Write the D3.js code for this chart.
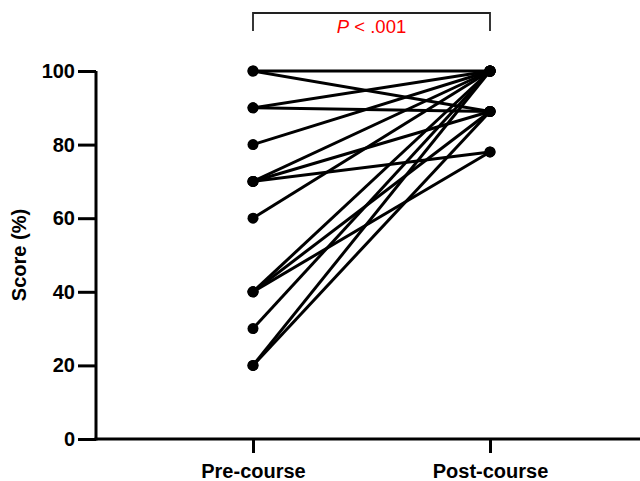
<!DOCTYPE html>
<html lang="en">
<head>
    <meta charset="UTF-8">
    <title>Score pre/post course</title>
    <script src="https://d3js.org/d3.v7.min.js"></script>
    <style>
        body { margin: 0; background: #fff; font-family: "Liberation Sans", Arial, sans-serif; }
        .axis path, .axis line { stroke: #000; stroke-width: 3px; }
        .axis text { font-size: 20px; font-weight: bold; fill: #000; font-family: "Liberation Sans", Arial, sans-serif; }
    </style>
</head>
<body>
<svg id="chart" width="640" height="481"></svg>
<script>
    // groups on x
    const groups = ["Pre-course", "Post-course"];
    // one entry per participant: pre score, post score
    const preScores  = [100, 100, 90, 90, 80, 70, 70, 70, 60, 40, 40, 40, 30, 20, 20];
    const postScores = [100,  89, 100, 89, 100, 100, 89, 78, 100, 100, 89, 78, 100, 100, 89];
    const yTicks = [0, 20, 40, 60, 80, 100];

    const svg = d3.select("#chart");
    const margin = { top: 71, right: 0, bottom: 42, left: 96 };
    const W = 640, H = 481;

    const y = d3.scaleLinear().domain([0, 100]).range([H - margin.bottom, margin.top]);
    const x = d3.scalePoint().domain(groups).range([253, 490]);

    // y axis
    svg.append("g")
        .attr("class", "axis")
        .attr("transform", `translate(${margin.left},0)`)
        .call(d3.axisLeft(y).tickValues(yTicks).tickSize(18).tickSizeOuter(0).tickPadding(3))
        .call(g => g.select(".domain").attr("d", `M0,${y(0) + 1.5}V${y(100)}`));

    // x axis
    svg.append("g")
        .attr("class", "axis")
        .attr("transform", `translate(0,${y(0)})`)
        .call(d3.axisBottom(x).tickSize(14).tickSizeOuter(0).tickPadding(7))
        .call(g => g.select(".domain").attr("d", `M${margin.left - 1.5},0H${W}`))
        .call(g => g.selectAll("text").attr("dy", "0.9em"));

    // y label
    svg.append("text")
        .attr("transform", `translate(26,${(y(0) + y(100)) / 2}) rotate(-90)`)
        .attr("text-anchor", "middle")
        .style("font-size", "20px")
        .style("font-weight", "bold")
        .text("Score (%)");

    // paired lines
    const pairs = preScores.map((p, i) => ({ pre: p, post: postScores[i] }));
    svg.append("g").selectAll("line")
        .data(pairs)
        .enter().append("line")
        .attr("x1", x(groups[0])).attr("y1", d => y(d.pre))
        .attr("x2", x(groups[1])).attr("y2", d => y(d.post))
        .attr("stroke", "#000").attr("stroke-width", 3);

    // points
    const pts = [];
    pairs.forEach(d => { pts.push([groups[0], d.pre]); pts.push([groups[1], d.post]); });
    svg.append("g").selectAll("circle")
        .data(pts)
        .enter().append("circle")
        .attr("cx", d => x(d[0])).attr("cy", d => y(d[1]))
        .attr("r", 5.5).attr("fill", "#000");

    // significance bracket
    const by = 13, bh = 18;
    svg.append("path")
        .attr("d", `M${x(groups[0])},${by + bh}V${by}H${x(groups[1])}V${by + bh}`)
        .attr("fill", "none").attr("stroke", "#222").attr("stroke-width", 1.8);

    const t = svg.append("text")
        .attr("x", (x(groups[0]) + x(groups[1])) / 2)
        .attr("y", 33)
        .attr("text-anchor", "middle")
        .attr("fill", "#ff0000")
        .style("font-size", "18.5px");
    t.append("tspan").style("font-style", "italic").text("P");
    t.append("tspan").text(" < .001");
</script>
</body>
</html>
